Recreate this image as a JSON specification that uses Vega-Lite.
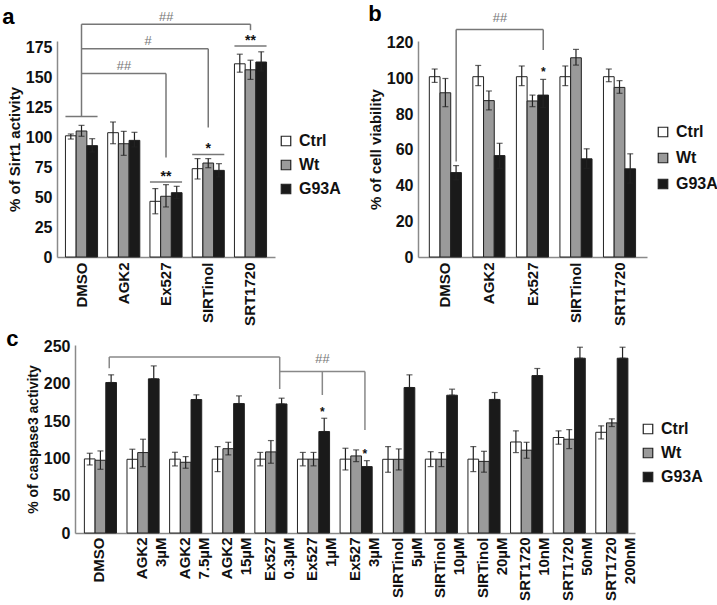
{
"$schema": "https://vega.github.io/schema/vega-lite/v6.json",
"background": "white",
"padding": {"left": 2, "top": 3, "right": 0, "bottom": 0},
"config": {
  "font": "Liberation Sans",
  "view": {"stroke": null},
  "axis": {"grid": false, "ticks": false, "labelOverlap": false, "domainColor": "#8a8a8a", "domainWidth": 1.5, "labelFont": "Liberation Sans", "labelFontWeight": "bold", "labelFontSize": 15, "labelColor": "#111", "titleFontSize": 15, "titleFontWeight": "bold", "titleColor": "#111", "labelPadding": 5, "titlePadding": 3},
  "axisY": {"labelFontSize": 16, "labelOverlap": false, "tickCount": 20},
  "axisX": {"labelAngle": -90, "title": null},
  "legend": {"symbolType": "square", "symbolSize": 90, "symbolStrokeColor": "#222", "symbolStrokeWidth": 1.2, "labelFontSize": 16, "labelFontWeight": "bold", "labelColor": "#111", "labelOffset": 5, "rowPadding": 8, "padding": 0},
  "title": {"fontSize": 22, "fontWeight": "bold", "anchor": "start", "frame": "bounds", "color": "#000"}
},
"datasets": {
  "a": [
    {"g":"DMSO","c":"Ctrl","v":101,"lo":98.3,"hi":102.5},
    {"g":"DMSO","c":"Wt","v":105,"lo":100.6,"hi":109.7},
    {"g":"DMSO","c":"G93A","v":92.8,"lo":87.5,"hi":98.6},
    {"g":"AGK2","c":"Ctrl","v":103.6,"lo":94.4,"hi":112.5},
    {"g":"AGK2","c":"Wt","v":94.4,"lo":84.7,"hi":104.7},
    {"g":"AGK2","c":"G93A","v":97.2,"lo":91.7,"hi":103.9},
    {"g":"Ex527","c":"Ctrl","v":46.4,"lo":36,"hi":57},
    {"g":"Ex527","c":"Wt","v":50.6,"lo":41.7,"hi":60.3},
    {"g":"Ex527","c":"G93A","v":53.6,"lo":48.6,"hi":58.9},
    {"g":"SIRTinol","c":"Ctrl","v":73.6,"lo":65,"hi":82},
    {"g":"SIRTinol","c":"Wt","v":78.3,"lo":74.4,"hi":82},
    {"g":"SIRTinol","c":"G93A","v":72.2,"lo":66.7,"hi":77.8},
    {"g":"SRT1720","c":"Ctrl","v":161,"lo":154,"hi":169},
    {"g":"SRT1720","c":"Wt","v":156,"lo":148,"hi":164},
    {"g":"SRT1720","c":"G93A","v":162.5,"lo":155,"hi":171}
  ],
  "aLines": [
    {"g":"DMSO","g2":"SRT1720","y":194,"y2":194},
    {"g":"DMSO","g2":"DMSO","y":194,"y2":117},
    {"g":"SRT1720","g2":"SRT1720","y":194,"y2":189},
    {"g":"DMSO","g2":"SIRTinol","y":173.6,"y2":173.6},
    {"g":"SIRTinol","g2":"SIRTinol","y":173.6,"y2":108},
    {"g":"DMSO","g2":"Ex527","y":153,"y2":153},
    {"g":"Ex527","g2":"Ex527","y":153,"y2":83}
  ],
  "aSpan": [
    {"g":"DMSO","y":117},
    {"g":"Ex527","y":62.5},
    {"g":"SIRTinol","y":85.5},
    {"g":"SRT1720","y":175.8}
  ],
  "aHash": [
    {"g":"Ex527","y":196.5,"t":"##"},
    {"g":"AGK2","y":156,"t":"##"}
  ],
  "aHash2": [
    {"g":"AGK2","y":176.5,"t":"#"}
  ],
  "aStar": [
    {"g":"Ex527","y":63.5,"t":"**"},
    {"g":"SIRTinol","y":86.5,"t":"*"},
    {"g":"SRT1720","y":177,"t":"**"}
  ],
  "b": [
    {"g":"DMSO","c":"Ctrl","v":101,"lo":97.8,"hi":105.3},
    {"g":"DMSO","c":"Wt","v":92,"lo":84.2,"hi":100},
    {"g":"DMSO","c":"G93A","v":47.3,"lo":43.2,"hi":51.2},
    {"g":"AGK2","c":"Ctrl","v":101,"lo":96,"hi":107.3},
    {"g":"AGK2","c":"Wt","v":87.6,"lo":82.4,"hi":93},
    {"g":"AGK2","c":"G93A","v":56.8,"lo":49.7,"hi":63.7},
    {"g":"Ex527","c":"Ctrl","v":101,"lo":96,"hi":107},
    {"g":"Ex527","c":"Wt","v":87.4,"lo":84.2,"hi":90.7},
    {"g":"Ex527","c":"G93A","v":90.7,"lo":83.7,"hi":99.5},
    {"g":"SIRTinol","c":"Ctrl","v":101,"lo":96,"hi":107},
    {"g":"SIRTinol","c":"Wt","v":111.6,"lo":107.5,"hi":116.3},
    {"g":"SIRTinol","c":"G93A","v":55,"lo":49.7,"hi":60.6},
    {"g":"SRT1720","c":"Ctrl","v":101,"lo":98.2,"hi":105.3},
    {"g":"SRT1720","c":"Wt","v":95,"lo":91.7,"hi":98.8},
    {"g":"SRT1720","c":"G93A","v":49.4,"lo":41.4,"hi":57.8}
  ],
  "bLines": [
    {"g":"DMSO","g2":"Ex527","y":127.4,"y2":127.4},
    {"g":"DMSO","g2":"DMSO","y":127.4,"y2":53.5},
    {"g":"Ex527","g2":"Ex527","y":127.4,"y2":116}
  ],
  "bHash": [
    {"g":"AGK2","y":131.5,"t":"##"}
  ],
  "bStar": [
    {"g":"Ex527","y":101.5,"t":"*"}
  ],
  "c": [
    {"g":"DMSO","c":"Ctrl","v":99.3,"lo":91.2,"hi":106.9},
    {"g":"DMSO","c":"Wt","v":97.5,"lo":85.4,"hi":110},
    {"g":"DMSO","c":"G93A","v":201.7,"lo":201.7,"hi":212},
    {"g":"AGK2 3µM","c":"Ctrl","v":98.8,"lo":86.8,"hi":112.3},
    {"g":"AGK2 3µM","c":"Wt","v":107.8,"lo":89,"hi":125.7},
    {"g":"AGK2 3µM","c":"G93A","v":206.6,"lo":206.6,"hi":224},
    {"g":"AGK2 7.5µM","c":"Ctrl","v":99,"lo":89.9,"hi":108.2},
    {"g":"AGK2 7.5µM","c":"Wt","v":94.8,"lo":86.8,"hi":102.4},
    {"g":"AGK2 7.5µM","c":"G93A","v":178.9,"lo":178.9,"hi":185.2},
    {"g":"AGK2 15µM","c":"Ctrl","v":99,"lo":82.3,"hi":115.8},
    {"g":"AGK2 15µM","c":"Wt","v":113,"lo":104.7,"hi":121.6},
    {"g":"AGK2 15µM","c":"G93A","v":173.5,"lo":173.5,"hi":183.8},
    {"g":"Ex527 0.3µM","c":"Ctrl","v":99,"lo":90,"hi":108},
    {"g":"Ex527 0.3µM","c":"Wt","v":108.7,"lo":93.5,"hi":123.9},
    {"g":"Ex527 0.3µM","c":"G93A","v":173,"lo":173,"hi":180.7},
    {"g":"Ex527 1µM","c":"Ctrl","v":99,"lo":90,"hi":108},
    {"g":"Ex527 1µM","c":"Wt","v":99,"lo":90,"hi":108},
    {"g":"Ex527 1µM","c":"G93A","v":136,"lo":136,"hi":153.8},
    {"g":"Ex527 3µM","c":"Ctrl","v":99,"lo":84.5,"hi":113.6},
    {"g":"Ex527 3µM","c":"Wt","v":103.3,"lo":95.7,"hi":111.4},
    {"g":"Ex527 3µM","c":"G93A","v":89,"lo":89,"hi":97},
    {"g":"SIRTinol 5µM","c":"Ctrl","v":98.8,"lo":81.4,"hi":115.8},
    {"g":"SIRTinol 5µM","c":"Wt","v":98.8,"lo":84.5,"hi":112.7},
    {"g":"SIRTinol 5µM","c":"G93A","v":195,"lo":195,"hi":212},
    {"g":"SIRTinol 10µM","c":"Ctrl","v":99,"lo":89,"hi":109},
    {"g":"SIRTinol 10µM","c":"Wt","v":99,"lo":89,"hi":107.8},
    {"g":"SIRTinol 10µM","c":"G93A","v":184.7,"lo":184.7,"hi":192.8},
    {"g":"SIRTinol 20µM","c":"Ctrl","v":99,"lo":82.3,"hi":115.8},
    {"g":"SIRTinol 20µM","c":"Wt","v":96,"lo":81.5,"hi":109.5},
    {"g":"SIRTinol 20µM","c":"G93A","v":179,"lo":179,"hi":188.3},
    {"g":"SRT1720 10nM","c":"Ctrl","v":122,"lo":107.8,"hi":136.9},
    {"g":"SRT1720 10nM","c":"Wt","v":111,"lo":100.2,"hi":121.6},
    {"g":"SRT1720 10nM","c":"G93A","v":211,"lo":211,"hi":220.5},
    {"g":"SRT1720 50nM","c":"Ctrl","v":128,"lo":119,"hi":136.9},
    {"g":"SRT1720 50nM","c":"Wt","v":125.7,"lo":113.1,"hi":138.6},
    {"g":"SRT1720 50nM","c":"G93A","v":234.3,"lo":234.3,"hi":249},
    {"g":"SRT1720 200nM","c":"Ctrl","v":135,"lo":126.1,"hi":143.6},
    {"g":"SRT1720 200nM","c":"Wt","v":147.6,"lo":142.7,"hi":153},
    {"g":"SRT1720 200nM","c":"G93A","v":234.3,"lo":234.3,"hi":249}
  ],
  "cLines": [
    {"g":"DMSO","g2":"Ex527 0.3µM","y":236,"y2":236},
    {"g":"DMSO","g2":"DMSO","y":236,"y2":221},
    {"g":"Ex527 0.3µM","g2":"Ex527 0.3µM","y":236,"y2":193},
    {"g":"Ex527 0.3µM","g2":"Ex527 3µM","y":216.5,"y2":216.5},
    {"g":"Ex527 1µM","g2":"Ex527 1µM","y":216.5,"y2":185},
    {"g":"Ex527 3µM","g2":"Ex527 3µM","y":216.5,"y2":138}
  ],
  "cHash": [
    {"g":"Ex527 1µM","y":228,"t":"##"}
  ],
  "cStar": [
    {"g":"Ex527 1µM","y":157,"t":"*"},
    {"g":"Ex527 3µM","y":100.5,"t":"*"}
  ]
},
"spacing": 2,
"resolve": {"scale": {"fill": "independent"}, "legend": {"fill": "independent"}},
"vconcat": [
  {
    "hconcat": [
      {
        "width": 218, "height": 216,
        "title": {"text": "a", "offset": -18, "dx": -5},
        "layer": [
          {"data": {"name": "a"}, "mark": {"type": "bar", "stroke": "#222", "strokeWidth": 1},
           "encoding": {
             "x": {"field": "g", "type": "nominal", "sort": null, "scale": {"paddingInner": 0.24, "paddingOuter": 0.2}},
             "xOffset": {"field": "c", "type": "nominal", "sort": ["Ctrl","Wt","G93A"], "scale": {"paddingInner": 0, "paddingOuter": 0}},
             "y": {"field": "v", "type": "quantitative", "scale": {"domain": [0, 180], "nice": false}, "axis": {"title": "% of Sirt1 activity", "values": [0,25,50,75,100,125,150,175], "tickCount": 20, "labelOverlap": false}},
             "fill": {"field": "c", "type": "nominal", "sort": ["Ctrl","Wt","G93A"], "scale": {"domain": ["Ctrl","Wt","G93A"], "range": ["#ffffff","#9a9a9a","#1a1a1a"]}, "legend": {"title": null, "orient": "none", "legendX": 221, "legendY": 92}}
           }},
          {"data": {"name": "a"}, "mark": {"type": "rule", "color": "#222", "strokeWidth": 1.2},
           "encoding": {"x": {"field": "g", "type": "nominal", "sort": null}, "xOffset": {"field": "c", "type": "nominal", "sort": ["Ctrl","Wt","G93A"]}, "y": {"field": "lo", "type": "quantitative"}, "y2": {"field": "hi"}}},
          {"data": {"name": "a"}, "mark": {"type": "tick", "color": "#222", "thickness": 1.2, "size": 6},
           "encoding": {"x": {"field": "g", "type": "nominal", "sort": null}, "xOffset": {"field": "c", "type": "nominal", "sort": ["Ctrl","Wt","G93A"]}, "y": {"field": "lo", "type": "quantitative"}}},
          {"data": {"name": "a"}, "mark": {"type": "tick", "color": "#222", "thickness": 1.2, "size": 6},
           "encoding": {"x": {"field": "g", "type": "nominal", "sort": null}, "xOffset": {"field": "c", "type": "nominal", "sort": ["Ctrl","Wt","G93A"]}, "y": {"field": "hi", "type": "quantitative"}}},
          {"data": {"name": "aLines"}, "mark": {"type": "rule", "color": "#777", "strokeWidth": 1.5, "clip": false},
           "encoding": {"x": {"field": "g", "type": "nominal", "sort": null, "bandPosition": 0.5}, "x2": {"field": "g2", "bandPosition": 0.5}, "y": {"field": "y", "type": "quantitative"}, "y2": {"field": "y2"}}},
          {"data": {"name": "aSpan"}, "mark": {"type": "rule", "color": "#777", "strokeWidth": 1.5, "clip": false},
           "encoding": {"x": {"field": "g", "type": "nominal", "sort": null, "bandPosition": 0}, "x2": {"field": "g", "bandPosition": 1}, "y": {"field": "y", "type": "quantitative"}}},
          {"data": {"name": "aHash"}, "mark": {"type": "text", "color": "#777", "fontSize": 13, "fontStyle": "italic", "baseline": "alphabetic", "clip": false},
           "encoding": {"x": {"field": "g", "type": "nominal", "sort": null, "bandPosition": 0.5}, "y": {"field": "y", "type": "quantitative"}, "text": {"field": "t"}}},
          {"data": {"name": "aHash2"}, "mark": {"type": "text", "color": "#777", "fontSize": 13, "fontStyle": "italic", "baseline": "alphabetic", "clip": false},
           "encoding": {"x": {"field": "g", "type": "nominal", "sort": null, "bandPosition": 1.25}, "y": {"field": "y", "type": "quantitative"}, "text": {"field": "t"}}},
          {"data": {"name": "aStar"}, "mark": {"type": "text", "color": "#111", "fontSize": 14, "fontWeight": "bold", "baseline": "alphabetic", "clip": false},
           "encoding": {"x": {"field": "g", "type": "nominal", "sort": null, "bandPosition": 0.5}, "y": {"field": "y", "type": "quantitative"}, "text": {"field": "t"}}}
        ]
      },
      {
        "width": 229, "height": 216,
        "title": {"text": "b", "offset": -14},
        "layer": [
          {"data": {"name": "b"}, "mark": {"type": "bar", "stroke": "#222", "strokeWidth": 1},
           "encoding": {
             "x": {"field": "g", "type": "nominal", "sort": null, "scale": {"paddingInner": 0.26, "paddingOuter": 0.26}},
             "xOffset": {"field": "c", "type": "nominal", "sort": ["Ctrl","Wt","G93A"], "scale": {"paddingInner": 0, "paddingOuter": 0}},
             "y": {"field": "v", "type": "quantitative", "scale": {"domain": [0, 121], "nice": false}, "axis": {"title": "% of cell viability", "values": [0,20,40,60,80,100,120], "tickCount": 20, "labelOverlap": false}},
             "fill": {"field": "c", "type": "nominal", "sort": ["Ctrl","Wt","G93A"], "scale": {"domain": ["Ctrl","Wt","G93A"], "range": ["#ffffff","#9a9a9a","#1a1a1a"]}, "legend": {"title": null, "orient": "none", "legendX": 237, "legendY": 83, "rowPadding": 10}}
           }},
          {"data": {"name": "b"}, "mark": {"type": "rule", "color": "#222", "strokeWidth": 1.2},
           "encoding": {"x": {"field": "g", "type": "nominal", "sort": null}, "xOffset": {"field": "c", "type": "nominal", "sort": ["Ctrl","Wt","G93A"]}, "y": {"field": "lo", "type": "quantitative"}, "y2": {"field": "hi"}}},
          {"data": {"name": "b"}, "mark": {"type": "tick", "color": "#222", "thickness": 1.2, "size": 6},
           "encoding": {"x": {"field": "g", "type": "nominal", "sort": null}, "xOffset": {"field": "c", "type": "nominal", "sort": ["Ctrl","Wt","G93A"]}, "y": {"field": "lo", "type": "quantitative"}}},
          {"data": {"name": "b"}, "mark": {"type": "tick", "color": "#222", "thickness": 1.2, "size": 6},
           "encoding": {"x": {"field": "g", "type": "nominal", "sort": null}, "xOffset": {"field": "c", "type": "nominal", "sort": ["Ctrl","Wt","G93A"]}, "y": {"field": "hi", "type": "quantitative"}}},
          {"data": {"name": "bLines"}, "mark": {"type": "rule", "color": "#777", "strokeWidth": 1.5, "clip": false},
           "encoding": {"x": {"field": "g", "type": "nominal", "sort": null, "bandPosition": 0.8333}, "x2": {"field": "g2", "bandPosition": 0.8333}, "y": {"field": "y", "type": "quantitative"}, "y2": {"field": "y2"}}},
          {"data": {"name": "bHash"}, "mark": {"type": "text", "color": "#777", "fontSize": 13, "fontStyle": "italic", "baseline": "alphabetic", "clip": false},
           "encoding": {"x": {"field": "g", "type": "nominal", "sort": null, "bandPosition": 0.8333}, "y": {"field": "y", "type": "quantitative"}, "text": {"field": "t"}}},
          {"data": {"name": "bStar"}, "mark": {"type": "text", "color": "#111", "fontSize": 12, "fontWeight": "bold", "baseline": "alphabetic", "clip": false},
           "encoding": {"x": {"field": "g", "type": "nominal", "sort": null, "bandPosition": 0.8333}, "y": {"field": "y", "type": "quantitative"}, "text": {"field": "t"}}}
        ]
      }
    ],
    "spacing": 27,
    "resolve": {"scale": {"fill": "independent"}, "legend": {"fill": "independent"}}
  },
  {
    "width": 578, "height": 188,
    "title": {"text": "c", "offset": -13, "dx": -20},
    "layer": [
      {"data": {"name": "c"}, "mark": {"type": "bar", "stroke": "#222", "strokeWidth": 1},
       "encoding": {
         "x": {"field": "g", "type": "nominal", "sort": null, "scale": {"range": [18, 578], "paddingInner": 0.3, "paddingOuter": 0.22}, "axis": {"labelExpr": "split(datum.label, ' ')", "labelLineHeight": 19, "labelPadding": 4}},
         "xOffset": {"field": "c", "type": "nominal", "sort": ["Ctrl","Wt","G93A"], "scale": {"paddingInner": 0, "paddingOuter": 0}},
         "y": {"field": "v", "type": "quantitative", "scale": {"domain": [0, 252], "nice": false}, "axis": {"title": "% of caspase3 activity", "titleFontSize": 14, "values": [0,50,100,150,200,250], "tickCount": 20, "labelOverlap": false, "offset": -18}},
         "fill": {"field": "c", "type": "nominal", "sort": ["Ctrl","Wt","G93A"], "scale": {"domain": ["Ctrl","Wt","G93A"], "range": ["#ffffff","#9a9a9a","#1a1a1a"]}, "legend": {"title": null, "orient": "none", "legendX": 583, "legendY": 76}}
       }},
      {"data": {"name": "c"}, "mark": {"type": "rule", "color": "#222", "strokeWidth": 1.2},
       "encoding": {"x": {"field": "g", "type": "nominal", "sort": null}, "xOffset": {"field": "c", "type": "nominal", "sort": ["Ctrl","Wt","G93A"]}, "y": {"field": "lo", "type": "quantitative"}, "y2": {"field": "hi"}}},
      {"data": {"name": "c"}, "mark": {"type": "tick", "color": "#222", "thickness": 1.2, "size": 6},
       "encoding": {"x": {"field": "g", "type": "nominal", "sort": null}, "xOffset": {"field": "c", "type": "nominal", "sort": ["Ctrl","Wt","G93A"]}, "y": {"field": "lo", "type": "quantitative"}}},
      {"data": {"name": "c"}, "mark": {"type": "tick", "color": "#222", "thickness": 1.2, "size": 6},
       "encoding": {"x": {"field": "g", "type": "nominal", "sort": null}, "xOffset": {"field": "c", "type": "nominal", "sort": ["Ctrl","Wt","G93A"]}, "y": {"field": "hi", "type": "quantitative"}}},
      {"data": {"name": "cLines"}, "mark": {"type": "rule", "color": "#888", "strokeWidth": 1.5, "clip": false},
       "encoding": {"x": {"field": "g", "type": "nominal", "sort": null, "bandPosition": 0.8333}, "x2": {"field": "g2", "bandPosition": 0.8333}, "y": {"field": "y", "type": "quantitative"}, "y2": {"field": "y2"}}},
      {"data": {"name": "cHash"}, "mark": {"type": "text", "color": "#777", "fontSize": 13, "fontStyle": "italic", "baseline": "alphabetic", "clip": false},
       "encoding": {"x": {"field": "g", "type": "nominal", "sort": null, "bandPosition": 0.8333}, "y": {"field": "y", "type": "quantitative"}, "text": {"field": "t"}}},
      {"data": {"name": "cStar"}, "mark": {"type": "text", "color": "#111", "fontSize": 12, "fontWeight": "bold", "baseline": "alphabetic", "clip": false},
       "encoding": {"x": {"field": "g", "type": "nominal", "sort": null, "bandPosition": 0.8333}, "y": {"field": "y", "type": "quantitative"}, "text": {"field": "t"}}}
    ]
  }
]
}
